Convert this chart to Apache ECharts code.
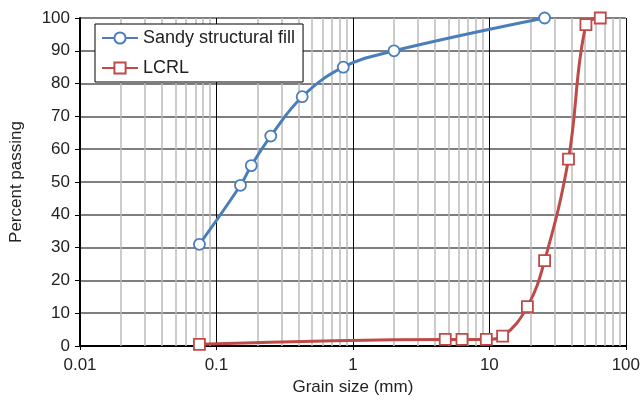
<!DOCTYPE html>
<html>
<head>
<meta charset="utf-8">
<script src="https://cdn.jsdelivr.net/npm/echarts@6/dist/echarts.min.js"></script>
<style>
html, body { margin: 0; padding: 0; background: #fff; }
#main { width: 643px; height: 401px; }
</style>
</head>
<body>
<div id="main"></div>
<script>
// grain size (mm) and percent passing
var sandySize = [0.075, 0.15, 0.18, 0.25, 0.425, 0.85, 2, 25.4];
var sandyPass = [31, 49, 55, 64, 76, 85, 90, 100];
var lcrlSize = [0.075, 4.75, 6.3, 9.5, 12.5, 19, 25.4, 38, 51, 65];
var lcrlPass = [0.5, 2, 2, 2, 3, 12, 26, 57, 98, 100];
// light vertical lines inside each decade
var minorSizes = [];
[0.01, 0.1, 1, 10].forEach(function (d) {
    for (var k = 2; k <= 9; k++) minorSizes.push(+(k * d).toPrecision(3));
});

function pairs(xs, ys) {
    var out = [];
    for (var i = 0; i < xs.length; i++) out.push([xs[i], ys[i]]);
    return out;
}

var blue = '#4a7ebb';
var red = '#be4b48';

var chart = echarts.init(document.getElementById('main'));
var option = {
    animation: false,
    textStyle: { fontFamily: 'Liberation Sans, Arial, sans-serif' },
    grid: { left: 78, right: 16, top: 18, bottom: 54 },
    legend: {
        orient: 'vertical',
        left: 95,
        top: 24,
        z: 20,
        itemWidth: 36,
        itemHeight: 14,
        itemGap: 12,
        padding: [5, 8, 5, 6],
        backgroundColor: '#fff',
        borderColor: '#000',
        borderWidth: 1,
        textStyle: { fontSize: 18, color: '#222' },
        data: ['Sandy structural fill', 'LCRL']
    },
    xAxis: {
        type: 'log',
        logBase: 10,
        min: 0.01,
        max: 100,
        name: 'Grain size (mm)',
        nameLocation: 'middle',
        nameGap: 33,
        nameTextStyle: { fontSize: 17, color: '#222' },
        axisLine: { lineStyle: { color: '#000', width: 2 } },
        axisTick: { show: true, length: 4, lineStyle: { color: '#000' } },
        axisLabel: {
            fontSize: 17, color: '#222', margin: 11,
            formatter: function (v) { return String(+v.toPrecision(3)); }
        },
        splitLine: { show: true, lineStyle: { color: '#000', width: 1 } }
    },
    yAxis: {
        type: 'value',
        min: 0,
        max: 100,
        interval: 10,
        name: 'Percent passing',
        nameLocation: 'middle',
        nameGap: 55,
        nameTextStyle: { fontSize: 17, color: '#222' },
        axisLine: { show: true, lineStyle: { color: '#000', width: 2 } },
        axisTick: { show: true, length: 5, lineStyle: { color: '#000' } },
        axisLabel: { fontSize: 17, color: '#222', margin: 10 },
        splitLine: { show: true, lineStyle: { color: '#555', width: 1.5 } }
    },
    series: [
        {
            name: 'minor',
            type: 'line',
            data: [],
            silent: true,
            markLine: {
                silent: true,
                symbol: 'none',
                label: { show: false },
                lineStyle: { color: '#bbb', width: 1.5, type: 'solid' },
                data: minorSizes.map(function (v) { return { xAxis: v }; })
            }
        },
        {
            name: 'Sandy structural fill',
            type: 'line',
            smooth: 0.4,
            clip: false,
            data: pairs(sandySize, sandyPass),
            symbol: 'circle',
            symbolSize: 11,
            lineStyle: { color: blue, width: 3 },
            itemStyle: { color: '#fff', borderColor: blue, borderWidth: 1.8 },
            z: 5
        },
        {
            name: 'LCRL',
            type: 'line',
            smooth: 0.4,
            clip: false,
            data: pairs(lcrlSize, lcrlPass),
            symbol: 'rect',
            symbolSize: 11,
            lineStyle: { color: red, width: 3 },
            itemStyle: { color: '#fff', borderColor: red, borderWidth: 1.8 },
            z: 5
        }
    ]
};
chart.setOption(option);
</script>
</body>
</html>
